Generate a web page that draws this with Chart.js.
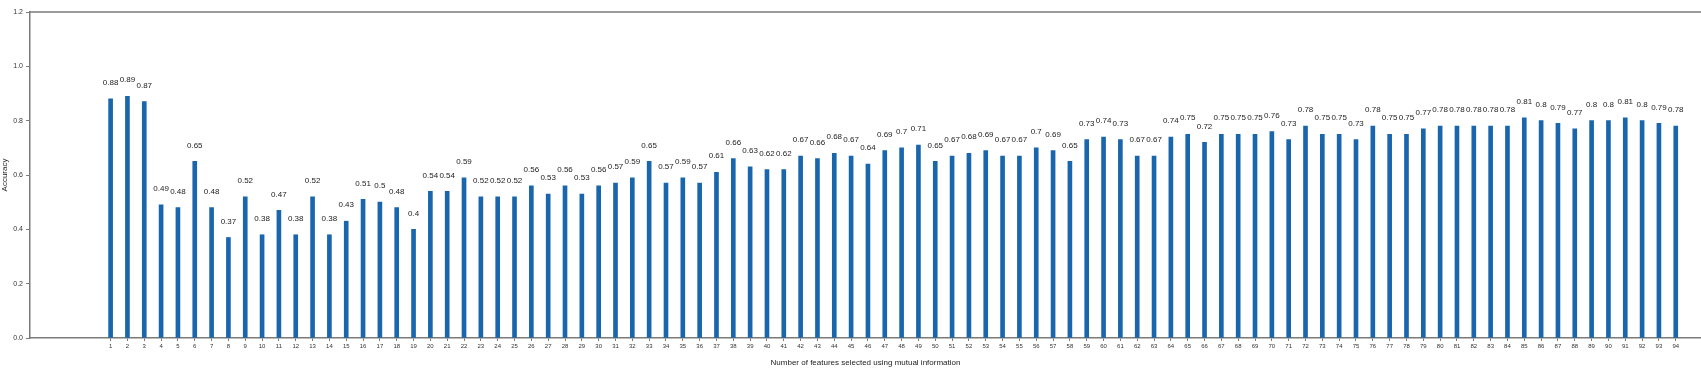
<!DOCTYPE html>
<html>
<head>
<meta charset="utf-8">
<script src="https://cdn.jsdelivr.net/npm/chart.js@4.4.1/dist/chart.umd.min.js"></script>
<style>
  html, body { margin: 0; padding: 0; background: #fff; }
  #wrap { width: 1701px; height: 376px; }
</style>
</head>
<body>
<div id="wrap"><canvas id="chart"></canvas></div>
<script>
// Nombre de features (1..94)
const featureCounts = Array.from({ length: 94 }, (_, i) => i + 1);

// Accuracy
const accuracy = [
    0.88, 0.89, 0.87, 0.49, 0.48, 0.65, 0.48, 0.37, 0.52, 0.38,
    0.47, 0.38, 0.52, 0.38, 0.43, 0.51, 0.5, 0.48, 0.4, 0.54,
    0.54, 0.59, 0.52, 0.52, 0.52, 0.56, 0.53, 0.56, 0.53, 0.56,
    0.57, 0.59, 0.65, 0.57, 0.59, 0.57, 0.61, 0.66, 0.63, 0.62,
    0.62, 0.67, 0.66, 0.68, 0.67, 0.64, 0.69, 0.7, 0.71, 0.65,
    0.67, 0.68, 0.69, 0.67, 0.67, 0.7, 0.69, 0.65, 0.73, 0.74,
    0.73, 0.67, 0.67, 0.74, 0.75, 0.72, 0.75, 0.75, 0.75, 0.76,
    0.73, 0.78, 0.75, 0.75, 0.73, 0.78, 0.75, 0.75, 0.77, 0.78,
    0.78, 0.78, 0.78, 0.78, 0.81, 0.8, 0.79, 0.77, 0.8, 0.8,
    0.81, 0.8, 0.79, 0.78
];

const yTicks = [0, 0.2, 0.4, 0.6, 0.8, 1.0, 1.2];

const AXIS_COLOR = '#7a7a7a';
const BAR_COLOR = '#1a66ad';
const FONT = '"Liberation Sans", Arial, sans-serif';

// Étiquettes de valeur au-dessus des barres
const valueLabels = {
    id: 'valueLabels',
    afterDatasetsDraw(chart) {
        const ctx = chart.ctx;
        const meta = chart.getDatasetMeta(0);
        ctx.save();
        ctx.font = '8px ' + FONT;
        ctx.fillStyle = '#222';
        ctx.textAlign = 'center';
        ctx.textBaseline = 'bottom';
        meta.data.forEach((bar, i) => {
            ctx.fillText(String(accuracy[i]), bar.x, bar.y - 12);
        });
        ctx.restore();
    }
};

// Cadre du haut (spine)
const topSpine = {
    id: 'topSpine',
    afterDraw(chart) {
        const { ctx, chartArea } = chart;
        ctx.save();
        ctx.strokeStyle = AXIS_COLOR;
        ctx.lineWidth = 1.5;
        ctx.beginPath();
        ctx.moveTo(chartArea.left, chartArea.top);
        ctx.lineTo(chartArea.right, chartArea.top);
        ctx.stroke();
        ctx.restore();
    }
};

new Chart(document.getElementById('chart'), {
    type: 'bar',
    data: {
        datasets: [{
            data: featureCounts.map((n, i) => ({ x: n, y: accuracy[i] })),
            backgroundColor: BAR_COLOR,
            borderWidth: 0,
            barThickness: 4
        }]
    },
    options: {
        responsive: true,
        maintainAspectRatio: false,
        animation: false,
        layout: { padding: { top: 12, right: 0, left: 0, bottom: 8 } },
        plugins: {
            legend: { display: false },
            tooltip: { enabled: false }
        },
        scales: {
            x: {
                type: 'linear',
                offset: false,
                min: -3.79,
                max: 95.5,
                afterBuildTicks: (scale) => {
                    scale.ticks = featureCounts.map(v => ({ value: v }));
                },
                afterFit: (scale) => { scale.height = 30; },
                grid: {
                    drawOnChartArea: false,
                    offset: false,
                    tickLength: 3,
                    color: AXIS_COLOR
                },
                border: { color: AXIS_COLOR, width: 1.5 },
                ticks: {
                    autoSkip: false,
                    maxRotation: 0,
                    padding: 2,
                    color: '#333',
                    font: { size: 6, family: FONT },
                    callback: (v) => String(v)
                },
                title: {
                    display: true,
                    text: 'Number of features selected using mutual information',
                    color: '#222',
                    padding: { top: 2, bottom: 0 },
                    font: { size: 8, family: FONT }
                }
            },
            y: {
                min: 0,
                max: 1.2,
                afterBuildTicks: (scale) => {
                    scale.ticks = yTicks.map(v => ({ value: v }));
                },
                afterFit: (scale) => { scale.width = 30; },
                grid: {
                    drawOnChartArea: false,
                    tickLength: 4,
                    color: AXIS_COLOR
                },
                border: { color: AXIS_COLOR, width: 1.5 },
                ticks: {
                    padding: 3,
                    color: '#333',
                    font: { size: 7, family: FONT },
                    callback: (v) => v.toFixed(1)
                },
                title: {
                    display: true,
                    text: 'Accuracy',
                    color: '#222',
                    padding: { top: 0, bottom: 2 },
                    font: { size: 8, family: FONT }
                }
            }
        }
    },
    plugins: [valueLabels, topSpine]
});
</script>
</body>
</html>
